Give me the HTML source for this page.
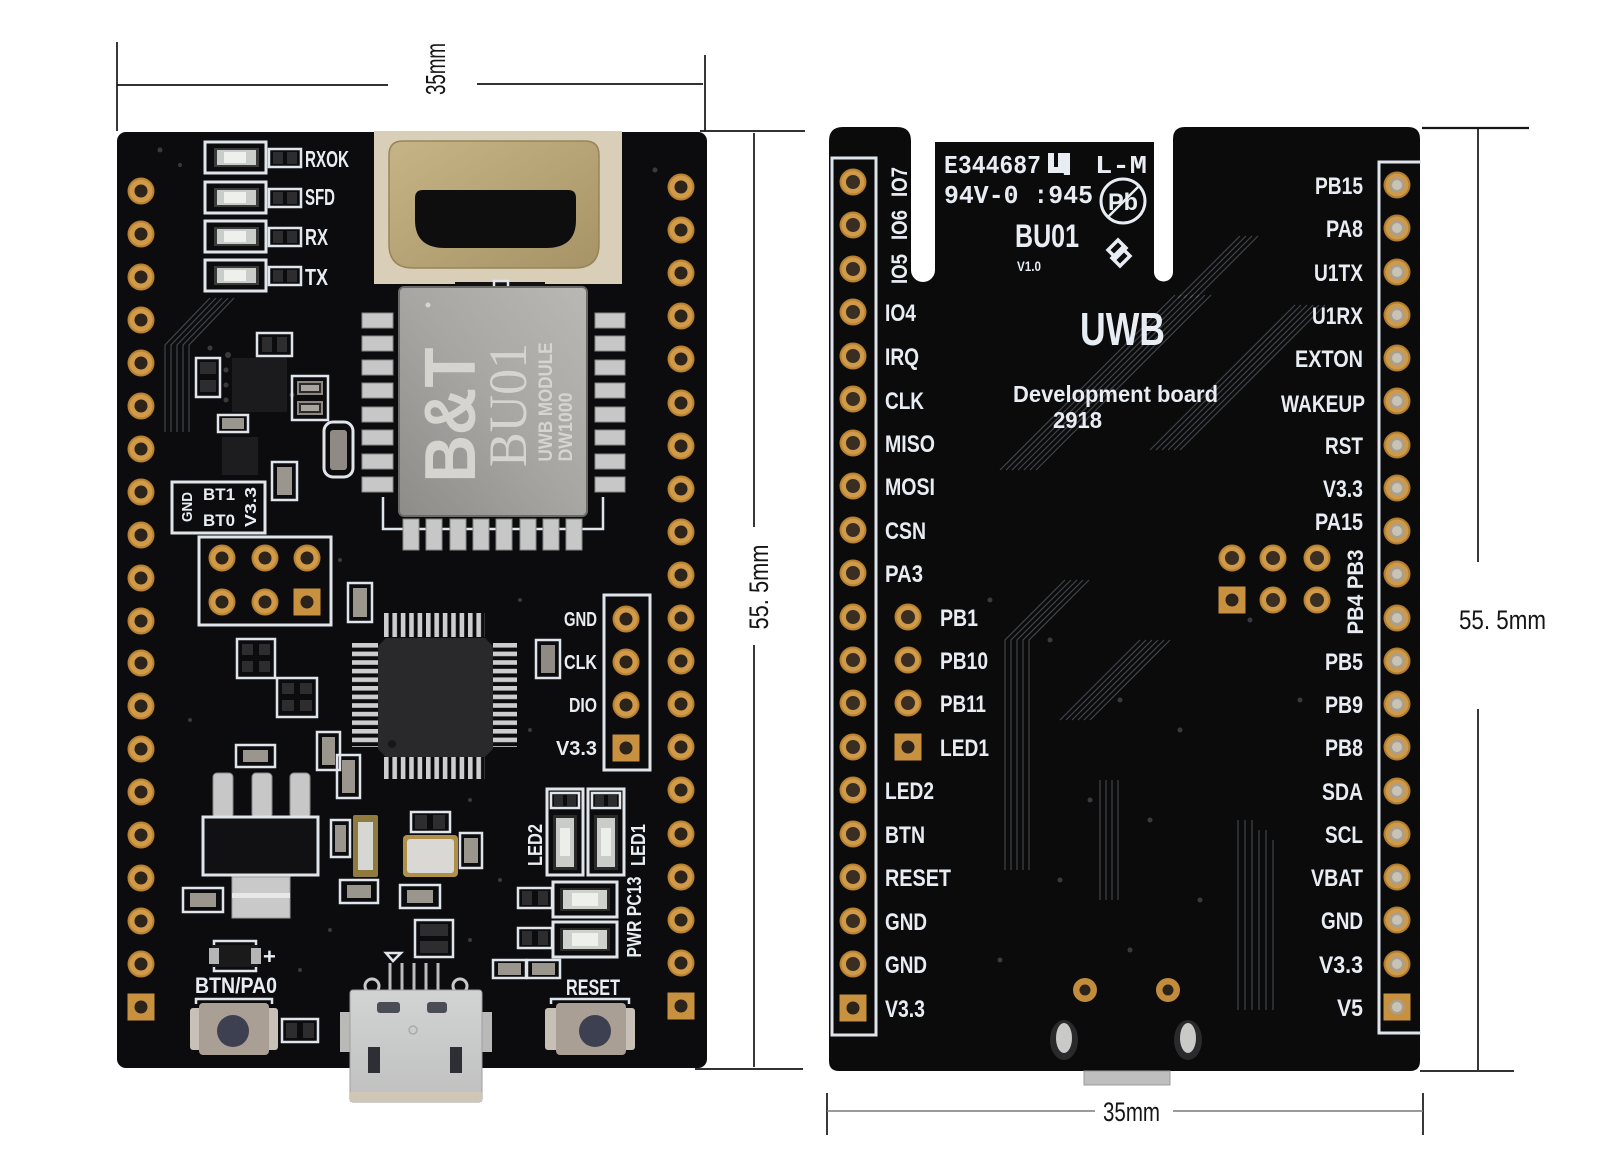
<!DOCTYPE html>
<html><head><meta charset="utf-8"><style>
html,body{margin:0;padding:0;background:#fff;width:1606px;height:1168px;overflow:hidden}
svg{display:block}
</style></head><body>
<svg width="1606" height="1168" viewBox="0 0 1606 1168" xmlns="http://www.w3.org/2000/svg" xmlns:xlink="http://www.w3.org/1999/xlink">
<defs>
<style>
.s{fill:none;stroke:#dfe5eb;stroke-width:3}
.s2{fill:none;stroke:#dfe5eb;stroke-width:2.5}
.t{fill:#e8edf3;font-family:"Liberation Sans","DejaVu Sans",sans-serif;font-weight:bold}
.d{fill:#151515;font-family:"Liberation Sans","DejaVu Sans",sans-serif}
.tr{fill:none;stroke:#8a95a1;stroke-width:1.2;opacity:.42}
.sv{fill:#c6c7c6;stroke:#868787;stroke-width:1}
.pd{fill:#2d2d2f}
.bd{fill:#9a958d}
.vi{fill:#3b3b3e}
</style>
<linearGradient id="gm" x1="0" y1="1" x2="1" y2="0"><stop offset="0" stop-color="#8e8c88"/><stop offset=".5" stop-color="#a8a6a2"/><stop offset="1" stop-color="#bab8b4"/></linearGradient>
<linearGradient id="gs" x1="0" y1="0" x2="1" y2="1"><stop offset="0" stop-color="#c6b487"/><stop offset="1" stop-color="#a69366"/></linearGradient>
<linearGradient id="gu" x1="0" y1="0" x2="0" y2="1"><stop offset="0" stop-color="#d2d3d3"/><stop offset="1" stop-color="#bfc0bf"/></linearGradient>
<pattern id="pv" x="384" y="0" width="8.4" height="10" patternUnits="userSpaceOnUse"><rect width="4.6" height="10" fill="#cdcdcd"/></pattern>
<pattern id="ph" x="0" y="643" width="10" height="8.6" patternUnits="userSpaceOnUse"><rect width="10" height="4.6" fill="#cdcdcd"/></pattern>
<g id="pin"><circle r="13.5" fill="#b7812f"/><circle r="11.5" fill="#d09a48"/><circle r="6.5" fill="#2c231b"/></g>
<g id="pinsq"><rect x="-13.5" y="-13.5" width="27" height="27" fill="#c79140"/><circle r="6.5" fill="#2c231b"/></g>
<g id="pinL"><circle r="13.5" fill="#b7812f"/><circle r="11.5" fill="#cf9a4a"/><circle r="7" fill="#3a2e22"/></g>
<g id="pinR"><circle r="13.5" fill="#b17e30"/><circle r="11.5" fill="#cd9a4c"/><circle r="7.5" fill="#a79f90"/><circle r="5" fill="#c9c3b6"/></g>
<g id="pinRsq"><rect x="-13.5" y="-13.5" width="27" height="27" fill="#c79140"/><circle r="7.5" fill="#a79f90"/><circle r="5" fill="#c9c3b6"/></g>
</defs>

<rect width="1606" height="1168" fill="#fff"/>

<!-- ===================== LEFT BOARD ===================== -->
<rect x="117" y="132" width="590" height="936" rx="9" fill="#0c0c0e"/>
<!-- antenna gap -->
<rect x="374" y="131" width="248" height="153" fill="#d9cfb9"/>
<rect x="613" y="284" width="10" height="4" fill="#0c0c0e"/>
<!-- shield -->
<path d="M403,141 H585 Q599,141 599,155 V244 Q599,268 575,268 H413 Q389,268 389,244 V155 Q389,141 403,141 Z" fill="url(#gs)" stroke="#978559" stroke-width="1.5"/>
<path d="M423,190 H568 Q576,190 576,198 V220 Q576,248 546,248 H445 Q415,248 415,220 V198 Q415,190 423,190 Z" fill="#0e0e0e"/>

<!-- left faint traces -->
<path class="tr" d="M210,298 L165,345 L165,432 M216,298 L171,345 L171,432 M222,298 L177,345 L177,432 M228,298 L183,345 L183,432 M234,298 L189,345 L189,432"/>

<!-- LED block -->
<g>
<rect class="s" x="205" y="142" width="61" height="31" stroke-width="4"/>
<rect x="214" y="148" width="45" height="19" fill="#3a3a3a"/><rect x="217" y="150" width="39" height="15" fill="#c9cdc9"/><rect x="224" y="152" width="22" height="11" fill="#eef0ec"/>
<rect class="s2" x="269" y="149" width="32" height="18"/><rect class="pd" x="273" y="152" width="10" height="12"/><rect class="pd" x="287" y="152" width="10" height="12"/>

<rect class="s" x="205" y="182" width="61" height="31" stroke-width="4"/>
<rect x="214" y="188" width="45" height="19" fill="#3a3a3a"/><rect x="217" y="190" width="39" height="15" fill="#c9cdc9"/><rect x="224" y="192" width="22" height="11" fill="#eef0ec"/>
<rect class="s2" x="269" y="189" width="32" height="18"/><rect class="pd" x="273" y="192" width="10" height="12"/><rect class="pd" x="287" y="192" width="10" height="12"/>

<rect class="s" x="205" y="221" width="61" height="31" stroke-width="4"/>
<rect x="214" y="227" width="45" height="19" fill="#3a3a3a"/><rect x="217" y="229" width="39" height="15" fill="#c9cdc9"/><rect x="224" y="231" width="22" height="11" fill="#eef0ec"/>
<rect class="s2" x="269" y="228" width="32" height="18"/><rect class="pd" x="273" y="231" width="10" height="12"/><rect class="pd" x="287" y="231" width="10" height="12"/>

<rect class="s" x="205" y="260" width="61" height="31" stroke-width="4"/>
<rect x="214" y="266" width="45" height="19" fill="#3a3a3a"/><rect x="217" y="268" width="39" height="15" fill="#c9cdc9"/><rect x="224" y="270" width="22" height="11" fill="#eef0ec"/>
<rect class="s2" x="269" y="267" width="32" height="18"/><rect class="pd" x="273" y="270" width="10" height="12"/><rect class="pd" x="287" y="270" width="10" height="12"/>
</g>
<text class="t" x="305" y="167" font-size="23" textLength="44" lengthAdjust="spacingAndGlyphs">RXOK</text>
<text class="t" x="305" y="205" font-size="23" textLength="30" lengthAdjust="spacingAndGlyphs">SFD</text>
<text class="t" x="305" y="245" font-size="23" textLength="23" lengthAdjust="spacingAndGlyphs">RX</text>
<text class="t" x="305" y="285" font-size="23" textLength="23" lengthAdjust="spacingAndGlyphs">TX</text>

<!-- module -->
<rect x="455" y="282" width="90" height="12" fill="#111"/>
<rect class="s2" x="494" y="281" width="14" height="10"/>
<path class="s2" d="M383,497 V529 H603 V497"/>
<g class="sv">
<rect x="362" y="313" width="31" height="15"/><rect x="362" y="336" width="31" height="15"/><rect x="362" y="360" width="31" height="15"/><rect x="362" y="383" width="31" height="15"/><rect x="362" y="407" width="31" height="15"/><rect x="362" y="430" width="31" height="15"/><rect x="362" y="454" width="31" height="15"/><rect x="362" y="477" width="31" height="15"/>
<rect x="595" y="313" width="30" height="15"/><rect x="595" y="336" width="30" height="15"/><rect x="595" y="360" width="30" height="15"/><rect x="595" y="383" width="30" height="15"/><rect x="595" y="407" width="30" height="15"/><rect x="595" y="430" width="30" height="15"/><rect x="595" y="454" width="30" height="15"/><rect x="595" y="477" width="30" height="15"/>
<rect x="403" y="519" width="16" height="31"/><rect x="426" y="519" width="16" height="31"/><rect x="450" y="519" width="16" height="31"/><rect x="473" y="519" width="16" height="31"/><rect x="496" y="519" width="16" height="31"/><rect x="520" y="519" width="16" height="31"/><rect x="543" y="519" width="16" height="31"/><rect x="566" y="519" width="16" height="31"/>
</g>
<rect x="399" y="287" width="188" height="229" rx="5" fill="url(#gm)" stroke="#6c6a66" stroke-width="2"/>
<circle cx="428" cy="305" r="2.5" fill="#d8d6d2"/>
<g fill="#d6d4cf">
<text transform="translate(449,415) rotate(-90)" y="26" text-anchor="middle" font-family="Liberation Sans, sans-serif" font-weight="bold" font-size="72" textLength="135" lengthAdjust="spacingAndGlyphs">B&amp;T</text>
<text transform="translate(508,405) rotate(-90)" y="18" text-anchor="middle" font-family="Liberation Serif, serif" font-size="54" textLength="124" lengthAdjust="spacingAndGlyphs">BU01</text>
<text transform="translate(545,402) rotate(-90)" y="7" text-anchor="middle" font-family="Liberation Sans, sans-serif" font-weight="bold" font-size="19" textLength="119" lengthAdjust="spacingAndGlyphs">UWB MODULE</text>
<text transform="translate(565,427) rotate(-90)" y="7" text-anchor="middle" font-family="Liberation Sans, sans-serif" font-weight="bold" font-size="19" textLength="69" lengthAdjust="spacingAndGlyphs">DW1000</text>
</g>

<!-- small components upper-left -->
<rect class="s2" x="257" y="333" width="35" height="23"/><rect class="pd" x="262" y="337" width="10" height="15"/><rect class="pd" x="277" y="337" width="10" height="15"/>
<rect class="s2" x="196" y="358" width="24" height="39"/><rect class="pd" x="200" y="362" width="16" height="12"/><rect class="pd" x="200" y="380" width="16" height="12"/>
<rect x="232" y="358" width="55" height="54" fill="#1b1b1d"/>
<g class="vi"><circle cx="228" cy="355" r="3"/><circle cx="226" cy="370" r="2.5"/><circle cx="226" cy="385" r="2.5"/><circle cx="226" cy="400" r="2.5"/><circle cx="292" cy="395" r="2.5"/><circle cx="210" cy="348" r="2.5"/></g>
<rect class="s2" x="292" y="376" width="36" height="44"/><rect x="297" y="381" width="26" height="14" fill="#8c8780"/><rect x="297" y="401" width="26" height="14" fill="#8c8780"/>
<rect x="299" y="383" width="22" height="10" fill="#2a2a2a"/><rect x="299" y="403" width="22" height="10" fill="#2a2a2a"/>
<rect x="301" y="385" width="18" height="6" fill="#a9a59e"/><rect x="301" y="405" width="18" height="6" fill="#a9a59e"/>
<rect class="s2" x="218" y="415" width="30" height="17"/><rect x="222" y="418" width="22" height="11" fill="#9a958d"/>
<rect x="222" y="437" width="36" height="38" fill="#1d1d1f"/>
<rect x="324" y="422" width="29" height="55" rx="9" fill="none" stroke="#dfe5eb" stroke-width="3"/><rect x="330" y="430" width="17" height="40" rx="3" fill="#8f8a84"/>
<rect class="s2" x="272" y="462" width="25" height="38"/><rect x="277" y="467" width="15" height="28" fill="#9a958d"/>
<!-- GND BT block -->
<rect class="s" x="172" y="482" width="93" height="51"/>
<text class="t" transform="translate(187,507) rotate(-90)" y="5" text-anchor="middle" font-size="15" textLength="30" lengthAdjust="spacingAndGlyphs">GND</text>
<text class="t" x="203" y="500" font-size="17" textLength="32" lengthAdjust="spacingAndGlyphs">BT1</text>
<text class="t" x="203" y="526" font-size="17" textLength="32" lengthAdjust="spacingAndGlyphs">BT0</text>
<text class="t" transform="translate(251,507) rotate(-90)" y="5" text-anchor="middle" font-size="16" textLength="40" lengthAdjust="spacingAndGlyphs">V3.3</text>
<!-- 2x3 header -->
<rect class="s" x="199" y="537" width="132" height="88"/>
<use xlink:href="#pin" x="222" y="558"/><use xlink:href="#pin" x="265" y="558"/><use xlink:href="#pin" x="307" y="558"/>
<use xlink:href="#pin" x="222" y="602"/><use xlink:href="#pin" x="265" y="602"/><use xlink:href="#pinsq" x="307" y="602"/>
<rect class="s2" x="348" y="583" width="24" height="39"/><rect x="353" y="588" width="14" height="29" fill="#9a958d"/>
<!-- quad parts -->
<rect class="s2" x="237" y="639" width="38" height="39"/><rect class="pd" x="242" y="644" width="11" height="11"/><rect class="pd" x="259" y="644" width="11" height="11"/><rect class="pd" x="242" y="661" width="11" height="11"/><rect class="pd" x="259" y="661" width="11" height="11"/>
<rect class="s2" x="277" y="678" width="40" height="39"/><rect class="pd" x="282" y="683" width="12" height="11"/><rect class="pd" x="300" y="683" width="12" height="11"/><rect class="pd" x="282" y="700" width="12" height="11"/><rect class="pd" x="300" y="700" width="12" height="11"/>
<!-- MCU -->
<rect x="384" y="613" width="101" height="24" fill="url(#pv)"/>
<rect x="384" y="757" width="101" height="22" fill="url(#pv)"/>
<rect x="352" y="643" width="26" height="104" fill="url(#ph)"/>
<rect x="493" y="643" width="24" height="104" fill="url(#ph)"/>
<path d="M386,638 H485 L493,646 V749 L485,757 H386 L378,749 V646 Z" fill="#29292c"/>
<circle cx="392" cy="744" r="4" fill="#18181a"/>
<rect class="s2" x="536" y="640" width="24" height="38"/><rect x="541" y="645" width="14" height="28" fill="#8f8a84"/>
<!-- SWD header -->
<rect class="s" x="604" y="595" width="46" height="175"/>
<use xlink:href="#pin" x="626" y="619"/><use xlink:href="#pin" x="626" y="662"/><use xlink:href="#pin" x="626" y="705"/><use xlink:href="#pinsq" x="626" y="748"/>
<text class="t" x="597" y="626" text-anchor="end" font-size="20" textLength="33" lengthAdjust="spacingAndGlyphs">GND</text>
<text class="t" x="597" y="669" text-anchor="end" font-size="20" textLength="33" lengthAdjust="spacingAndGlyphs">CLK</text>
<text class="t" x="597" y="712" text-anchor="end" font-size="20" textLength="28" lengthAdjust="spacingAndGlyphs">DIO</text>
<text class="t" x="597" y="755" text-anchor="end" font-size="20" textLength="41" lengthAdjust="spacingAndGlyphs">V3.3</text>
<!-- lower components -->
<rect class="s2" x="236" y="745" width="39" height="22"/><rect x="243" y="750" width="25" height="12" fill="#9a958d"/>
<rect class="s2" x="317" y="732" width="23" height="38"/><rect x="322" y="737" width="13" height="28" fill="#9a958d"/>
<rect class="s2" x="337" y="755" width="23" height="43"/><rect x="342" y="760" width="13" height="33" fill="#9a958d"/>
<!-- regulator -->
<rect x="213" y="773" width="20" height="45" rx="4" class="sv"/><rect x="252" y="773" width="20" height="45" rx="4" class="sv"/><rect x="290" y="773" width="20" height="45" rx="4" class="sv"/>
<rect x="203" y="817" width="115" height="58" fill="#111113" stroke="#dfe5eb" stroke-width="3"/>
<rect x="232" y="877" width="58" height="41" fill="#c8c9c8" stroke="#9a9b9b"/>
<rect x="232" y="893" width="58" height="5" fill="#e6e7e6"/>
<rect class="s2" x="183" y="888" width="40" height="24"/><rect x="190" y="893" width="26" height="14" fill="#9a958d"/>
<rect class="s2" x="331" y="820" width="19" height="37"/><rect x="335" y="825" width="11" height="27" fill="#9a958d"/>
<rect x="353" y="815" width="25" height="62" rx="2" fill="#8f7b3e"/><rect x="358" y="822" width="15" height="48" fill="#d6d6d3"/>
<rect x="403" y="835" width="55" height="42" rx="4" fill="#b08f49"/><rect x="407" y="839" width="47" height="34" rx="3" fill="#d9d8d4"/>
<rect class="s2" x="411" y="812" width="39" height="20"/><rect class="pd" x="415" y="815" width="12" height="14"/><rect class="pd" x="433" y="815" width="12" height="14"/>
<rect class="s2" x="460" y="833" width="22" height="35"/><rect x="464" y="838" width="14" height="25" fill="#9a958d"/>
<rect class="s2" x="340" y="880" width="38" height="23"/><rect x="347" y="885" width="24" height="13" fill="#9a958d"/>
<rect class="s2" x="400" y="885" width="40" height="23"/><rect x="407" y="890" width="26" height="13" fill="#9a958d"/>
<rect class="s2" x="415" y="920" width="38" height="37"/><rect class="pd" x="420" y="924" width="28" height="12"/><rect class="pd" x="420" y="941" width="28" height="12"/>
<!-- LED1/LED2 -->
<rect class="s" x="547" y="789" width="36" height="86"/><rect class="s2" x="551" y="793" width="28" height="15"/><rect class="pd" x="554" y="795" width="9" height="11"/><rect class="pd" x="567" y="795" width="9" height="11"/>
<rect x="553" y="815" width="24" height="55" fill="#2a2a2a"/><rect x="556" y="818" width="18" height="49" fill="#c9ccc8"/><rect x="560" y="828" width="10" height="28" fill="#eceeea"/>
<rect class="s" x="588" y="789" width="36" height="86"/><rect class="s2" x="592" y="793" width="28" height="15"/><rect class="pd" x="595" y="795" width="9" height="11"/><rect class="pd" x="608" y="795" width="9" height="11"/>
<rect x="594" y="815" width="24" height="55" fill="#2a2a2a"/><rect x="597" y="818" width="18" height="49" fill="#c9ccc8"/><rect x="601" y="828" width="10" height="28" fill="#eceeea"/>
<text class="t" transform="translate(535,845) rotate(-90)" y="7" text-anchor="middle" font-size="20" textLength="42" lengthAdjust="spacingAndGlyphs">LED2</text>
<text class="t" transform="translate(638,845) rotate(-90)" y="7" text-anchor="middle" font-size="20" textLength="42" lengthAdjust="spacingAndGlyphs">LED1</text>
<!-- PC13 / PWR -->
<rect class="s" x="553" y="882" width="64" height="35"/><rect x="560" y="888" width="50" height="23" fill="#2a2a2a"/><rect x="563" y="890" width="44" height="19" fill="#cfd1cd"/><rect x="572" y="893" width="26" height="13" fill="#eef0ec"/>
<rect class="s" x="553" y="922" width="64" height="35"/><rect x="560" y="928" width="50" height="23" fill="#2a2a2a"/><rect x="563" y="930" width="44" height="19" fill="#cfd1cd"/><rect x="572" y="933" width="26" height="13" fill="#eef0ec"/>
<rect class="s2" x="518" y="888" width="34" height="20"/><rect class="pd" x="522" y="891" width="10" height="14"/><rect class="pd" x="538" y="891" width="10" height="14"/>
<rect class="s2" x="518" y="928" width="34" height="20"/><rect class="pd" x="522" y="931" width="10" height="14"/><rect class="pd" x="538" y="931" width="10" height="14"/>
<rect class="s2" x="493" y="960" width="33" height="18"/><rect x="498" y="963" width="23" height="12" fill="#9a958d"/>
<rect class="s2" x="527" y="960" width="33" height="18"/><rect x="532" y="963" width="23" height="12" fill="#9a958d"/>
<text class="t" transform="translate(634,917) rotate(-90)" y="7" text-anchor="middle" font-size="20" textLength="81" lengthAdjust="spacingAndGlyphs">PWR PC13</text>
<!-- diode -->
<rect class="s2" x="214" y="941" width="42" height="30"/>
<rect x="212" y="945" width="46" height="22" fill="#1a1a1a"/><rect x="209" y="948" width="10" height="16" fill="#b5b5b5"/><rect x="251" y="948" width="10" height="16" fill="#b5b5b5"/>
<text class="t" x="263" y="964" font-size="22">+</text>
<text class="t" x="195" y="993" font-size="22" textLength="82" lengthAdjust="spacingAndGlyphs">BTN/PA0</text>
<text class="t" x="566" y="995" font-size="22" textLength="54" lengthAdjust="spacingAndGlyphs">RESET</text>
<!-- buttons -->
<path class="s2" d="M196,1004 V999 H272 V1004"/>
<rect x="190" y="1008" width="88" height="42" rx="3" fill="#c6c0b7"/>
<rect x="199" y="1003" width="70" height="52" rx="4" fill="#a99f95"/>
<circle cx="233" cy="1031" r="16" fill="#3c4050"/>
<path class="s2" d="M551,1004 V999 H629 V1004"/>
<rect x="545" y="1008" width="90" height="42" rx="3" fill="#c6c0b7"/>
<rect x="556" y="1003" width="70" height="52" rx="4" fill="#a99f95"/>
<circle cx="595" cy="1031" r="16" fill="#3c4050"/>
<rect class="s2" x="282" y="1019" width="36" height="23"/><rect class="pd" x="286" y="1023" width="11" height="15"/><rect class="pd" x="303" y="1023" width="11" height="15"/>
<!-- USB -->
<path class="s2" d="M386,953 H401 L393,961 Z"/>
<g stroke="#bdbdbd" stroke-width="3"><line x1="390" y1="963" x2="390" y2="992"/><line x1="402" y1="963" x2="402" y2="992"/><line x1="414" y1="963" x2="414" y2="992"/><line x1="426" y1="963" x2="426" y2="992"/><line x1="438" y1="963" x2="438" y2="992"/></g>
<circle cx="372" cy="986" r="7" fill="none" stroke="#c9c9c9" stroke-width="3"/><circle cx="460" cy="986" r="7" fill="none" stroke="#c9c9c9" stroke-width="3"/>
<rect x="340" y="1012" width="12" height="40" fill="#b9b9b8"/><rect x="480" y="1012" width="12" height="40" fill="#b9b9b8"/>
<rect x="350" y="990" width="132" height="112" rx="3" fill="url(#gu)" stroke="#9d9e9e"/>
<rect x="377" y="1002" width="23" height="11" rx="3" fill="#4a4d55"/><rect x="427" y="1002" width="20" height="11" rx="3" fill="#4a4d55"/>
<rect x="368" y="1047" width="12" height="26" fill="#2d2f34"/><rect x="450" y="1047" width="12" height="26" fill="#2d2f34"/>
<circle cx="413" cy="1030" r="4" fill="none" stroke="#aaa" stroke-width="1.5"/>
<rect x="350" y="1092" width="132" height="10" fill="#cfc6b6"/>
<!-- left board pins -->
<g>
<use xlink:href="#pin" x="141" y="191"/><use xlink:href="#pin" x="141" y="234"/><use xlink:href="#pin" x="141" y="277"/><use xlink:href="#pin" x="141" y="320"/><use xlink:href="#pin" x="141" y="363"/><use xlink:href="#pin" x="141" y="406"/><use xlink:href="#pin" x="141" y="449"/><use xlink:href="#pin" x="141" y="492"/><use xlink:href="#pin" x="141" y="535"/><use xlink:href="#pin" x="141" y="578"/><use xlink:href="#pin" x="141" y="621"/><use xlink:href="#pin" x="141" y="663"/><use xlink:href="#pin" x="141" y="706"/><use xlink:href="#pin" x="141" y="749"/><use xlink:href="#pin" x="141" y="792"/><use xlink:href="#pin" x="141" y="835"/><use xlink:href="#pin" x="141" y="878"/><use xlink:href="#pin" x="141" y="921"/><use xlink:href="#pin" x="141" y="964"/><use xlink:href="#pinsq" x="141" y="1007"/>
<use xlink:href="#pin" x="681" y="187"/><use xlink:href="#pin" x="681" y="230"/><use xlink:href="#pin" x="681" y="273"/><use xlink:href="#pin" x="681" y="316"/><use xlink:href="#pin" x="681" y="359"/><use xlink:href="#pin" x="681" y="403"/><use xlink:href="#pin" x="681" y="446"/><use xlink:href="#pin" x="681" y="489"/><use xlink:href="#pin" x="681" y="532"/><use xlink:href="#pin" x="681" y="575"/><use xlink:href="#pin" x="681" y="618"/><use xlink:href="#pin" x="681" y="661"/><use xlink:href="#pin" x="681" y="704"/><use xlink:href="#pin" x="681" y="747"/><use xlink:href="#pin" x="681" y="790"/><use xlink:href="#pin" x="681" y="834"/><use xlink:href="#pin" x="681" y="877"/><use xlink:href="#pin" x="681" y="920"/><use xlink:href="#pin" x="681" y="963"/><use xlink:href="#pinsq" x="681" y="1006"/>
</g>
<g class="vi"><circle cx="160" cy="150" r="2.5"/><circle cx="180" cy="165" r="2"/><circle cx="655" cy="170" r="2.5"/><circle cx="340" cy="560" r="2"/><circle cx="520" cy="600" r="2"/><circle cx="530" cy="730" r="2"/><circle cx="190" cy="720" r="2"/><circle cx="470" cy="800" r="2"/><circle cx="500" cy="880" r="2"/><circle cx="330" cy="930" r="2"/><circle cx="300" cy="970" r="2"/><circle cx="470" cy="940" r="2"/></g>

<!-- ===================== RIGHT BOARD ===================== -->
<path d="M829,141 Q829,127 843,127 H897 Q911,127 911,141 V270 A12,12 0 0 0 935,270 V142 H1154 V272 A9.5,9.5 0 0 0 1173,272 V139 Q1173,127 1185,127 H1408 Q1420,127 1420,139 V1061 Q1420,1071 1410,1071 H839 Q829,1071 829,1061 Z" fill="#0b0b0c"/>
<!-- traces -->
<path class="tr" d="M1000,470 L1175,295 M1006,470 L1181,295 M1012,470 L1187,295 M1018,470 L1193,295 M1024,470 L1199,295 M1030,470 L1205,295 M1036,470 L1211,295"/>
<path class="tr" d="M1150,450 L1295,305 M1156,450 L1301,305 M1162,450 L1307,305 M1168,450 L1313,305 M1174,450 L1319,305 M1180,450 L1325,305"/>
<path class="tr" d="M1178,298 L1240,236 M1184,298 L1246,236 M1190,298 L1252,236 M1196,298 L1258,236"/>
<path class="tr" d="M1005,870 V640 L1065,580 M1011,870 V640 L1071,580 M1017,870 V640 L1077,580 M1023,870 V640 L1083,580 M1029,870 V640 L1089,580"/>
<path class="tr" d="M1238,1010 V820 M1245,1010 V820 M1252,1010 V820 M1259,1010 V830 M1266,1010 V830 M1273,1010 V840"/>
<path class="tr" d="M1060,720 L1140,640 M1066,720 L1146,640 M1072,720 L1152,640 M1078,720 L1158,640 M1084,720 L1164,640 M1090,720 L1170,640"/>
<path class="tr" d="M1100,780 V900 M1106,780 V900 M1112,780 V900 M1118,780 V900"/>
<!-- label block -->
<g class="t" font-weight="normal">
<text x="944" y="173" font-family="Liberation Mono, monospace" font-size="26" textLength="97" lengthAdjust="spacingAndGlyphs">E344687</text>
<text x="1095" y="173" font-family="Liberation Mono, monospace" font-size="26" textLength="52" lengthAdjust="spacingAndGlyphs">L-M</text>
<text x="944" y="203" font-family="Liberation Mono, monospace" font-size="26" textLength="149" lengthAdjust="spacingAndGlyphs">94V-0 :945</text>
<text x="1015" y="247" font-size="32" textLength="64" lengthAdjust="spacingAndGlyphs">BU01</text>
<text x="1017" y="271" font-size="14" font-weight="bold" textLength="24" lengthAdjust="spacingAndGlyphs">V1.0</text>
<text x="1123" y="210" text-anchor="middle" font-size="24" textLength="30" lengthAdjust="spacingAndGlyphs">Pb</text>
</g>
<path d="M1048,153 h6 v14 h4 v-14 h6 v20 h-16 z M1060,153 h10 v22 h-6 z" fill="#e8edf3"/>
<circle cx="1123" cy="201" r="22" fill="none" stroke="#e8edf3" stroke-width="3"/>
<line x1="1108" y1="217" x2="1139" y2="186" stroke="#e8edf3" stroke-width="2.5"/>
<g fill="none" stroke="#e8edf3" stroke-width="3.5"><path d="M1108,250 L1118,240 L1126,248 L1116,258 Z"/><path d="M1112,258 L1122,248 L1130,256 L1120,266 Z"/></g>
<!-- board texts -->
<text class="t" x="1080" y="345" font-weight="normal" font-size="46" textLength="85" lengthAdjust="spacingAndGlyphs">UWB</text>
<text class="t" x="1013" y="402" font-size="23" textLength="205" lengthAdjust="spacingAndGlyphs">Development  board</text>
<text class="t" x="1053" y="428" font-size="23" textLength="49" lengthAdjust="spacingAndGlyphs">2918</text>
<!-- outline boxes -->
<rect class="s" x="832" y="158" width="44" height="877"/>
<path class="s" d="M1421,162 H1379 V1033 H1421"/>
<!-- left column pins -->
<g>
<use xlink:href="#pinL" x="853" y="182"/><use xlink:href="#pinL" x="853" y="225"/><use xlink:href="#pinL" x="853" y="269"/><use xlink:href="#pinL" x="853" y="312"/><use xlink:href="#pinL" x="853" y="356"/><use xlink:href="#pinL" x="853" y="399"/><use xlink:href="#pinL" x="853" y="443"/><use xlink:href="#pinL" x="853" y="486"/><use xlink:href="#pinL" x="853" y="530"/><use xlink:href="#pinL" x="853" y="573"/><use xlink:href="#pinL" x="853" y="617"/><use xlink:href="#pinL" x="853" y="660"/><use xlink:href="#pinL" x="853" y="703"/><use xlink:href="#pinL" x="853" y="747"/><use xlink:href="#pinL" x="853" y="790"/><use xlink:href="#pinL" x="853" y="834"/><use xlink:href="#pinL" x="853" y="877"/><use xlink:href="#pinL" x="853" y="921"/><use xlink:href="#pinL" x="853" y="964"/><use xlink:href="#pinsq" x="853" y="1008"/>
<use xlink:href="#pinR" x="1397" y="185"/><use xlink:href="#pinR" x="1397" y="228"/><use xlink:href="#pinR" x="1397" y="272"/><use xlink:href="#pinR" x="1397" y="315"/><use xlink:href="#pinR" x="1397" y="358"/><use xlink:href="#pinR" x="1397" y="401"/><use xlink:href="#pinR" x="1397" y="445"/><use xlink:href="#pinR" x="1397" y="488"/><use xlink:href="#pinR" x="1397" y="531"/><use xlink:href="#pinR" x="1397" y="574"/><use xlink:href="#pinR" x="1397" y="618"/><use xlink:href="#pinR" x="1397" y="661"/><use xlink:href="#pinR" x="1397" y="704"/><use xlink:href="#pinR" x="1397" y="747"/><use xlink:href="#pinR" x="1397" y="791"/><use xlink:href="#pinR" x="1397" y="834"/><use xlink:href="#pinR" x="1397" y="877"/><use xlink:href="#pinR" x="1397" y="920"/><use xlink:href="#pinR" x="1397" y="964"/><use xlink:href="#pinRsq" x="1397" y="1007"/>
<use xlink:href="#pinL" x="908" y="617"/><use xlink:href="#pinL" x="908" y="660"/><use xlink:href="#pinL" x="908" y="703"/><use xlink:href="#pinsq" x="908" y="747"/>
<use xlink:href="#pinL" x="1232" y="558"/><use xlink:href="#pinL" x="1273" y="558"/><use xlink:href="#pinL" x="1317" y="558"/>
<use xlink:href="#pinsq" x="1232" y="600"/><use xlink:href="#pinL" x="1273" y="600"/><use xlink:href="#pinL" x="1317" y="600"/>
</g>
<!-- left labels -->
<g class="t" font-size="22">
<text transform="translate(899,182) rotate(-90)" y="8" text-anchor="middle" textLength="30" lengthAdjust="spacingAndGlyphs">IO7</text>
<text transform="translate(899,225) rotate(-90)" y="8" text-anchor="middle" textLength="30" lengthAdjust="spacingAndGlyphs">IO6</text>
<text transform="translate(899,269) rotate(-90)" y="8" text-anchor="middle" textLength="30" lengthAdjust="spacingAndGlyphs">IO5</text>
</g>
<g class="t" font-size="24">
<text x="885" y="321" textLength="31" lengthAdjust="spacingAndGlyphs">IO4</text>
<text x="885" y="365" textLength="34" lengthAdjust="spacingAndGlyphs">IRQ</text>
<text x="885" y="409" textLength="39" lengthAdjust="spacingAndGlyphs">CLK</text>
<text x="885" y="452" textLength="50" lengthAdjust="spacingAndGlyphs">MISO</text>
<text x="885" y="495" textLength="50" lengthAdjust="spacingAndGlyphs">MOSI</text>
<text x="885" y="539" textLength="41" lengthAdjust="spacingAndGlyphs">CSN</text>
<text x="885" y="582" textLength="38" lengthAdjust="spacingAndGlyphs">PA3</text>
<text x="940" y="626" textLength="38" lengthAdjust="spacingAndGlyphs">PB1</text>
<text x="940" y="669" textLength="48" lengthAdjust="spacingAndGlyphs">PB10</text>
<text x="940" y="712" textLength="46" lengthAdjust="spacingAndGlyphs">PB11</text>
<text x="940" y="756" textLength="49" lengthAdjust="spacingAndGlyphs">LED1</text>
<text x="885" y="799" textLength="49" lengthAdjust="spacingAndGlyphs">LED2</text>
<text x="885" y="843" textLength="40" lengthAdjust="spacingAndGlyphs">BTN</text>
<text x="885" y="886" textLength="66" lengthAdjust="spacingAndGlyphs">RESET</text>
<text x="885" y="930" textLength="42" lengthAdjust="spacingAndGlyphs">GND</text>
<text x="885" y="973" textLength="42" lengthAdjust="spacingAndGlyphs">GND</text>
<text x="885" y="1017" textLength="40" lengthAdjust="spacingAndGlyphs">V3.3</text>
</g>
<!-- right labels -->
<g class="t" font-size="24" text-anchor="end">
<text x="1363" y="194" textLength="48" lengthAdjust="spacingAndGlyphs">PB15</text>
<text x="1363" y="237" textLength="37" lengthAdjust="spacingAndGlyphs">PA8</text>
<text x="1363" y="281" textLength="49" lengthAdjust="spacingAndGlyphs">U1TX</text>
<text x="1363" y="324" textLength="51" lengthAdjust="spacingAndGlyphs">U1RX</text>
<text x="1363" y="367" textLength="68" lengthAdjust="spacingAndGlyphs">EXTON</text>
<text x="1365" y="412" textLength="84" lengthAdjust="spacingAndGlyphs">WAKEUP</text>
<text x="1363" y="454" textLength="38" lengthAdjust="spacingAndGlyphs">RST</text>
<text x="1363" y="497" textLength="40" lengthAdjust="spacingAndGlyphs">V3.3</text>
<text x="1363" y="530" textLength="48" lengthAdjust="spacingAndGlyphs">PA15</text>
<text x="1363" y="670" textLength="38" lengthAdjust="spacingAndGlyphs">PB5</text>
<text x="1363" y="713" textLength="38" lengthAdjust="spacingAndGlyphs">PB9</text>
<text x="1363" y="756" textLength="38" lengthAdjust="spacingAndGlyphs">PB8</text>
<text x="1363" y="800" textLength="41" lengthAdjust="spacingAndGlyphs">SDA</text>
<text x="1363" y="843" textLength="38" lengthAdjust="spacingAndGlyphs">SCL</text>
<text x="1363" y="886" textLength="52" lengthAdjust="spacingAndGlyphs">VBAT</text>
<text x="1363" y="929" textLength="42" lengthAdjust="spacingAndGlyphs">GND</text>
<text x="1363" y="973" textLength="44" lengthAdjust="spacingAndGlyphs">V3.3</text>
<text x="1363" y="1016" textLength="26" lengthAdjust="spacingAndGlyphs">V5</text>
</g>
<text class="t" transform="translate(1355,592) rotate(-90)" y="8" text-anchor="middle" font-size="22" textLength="85" lengthAdjust="spacingAndGlyphs">PB4 PB3</text>
<!-- bottom of right board -->
<circle cx="1085" cy="990" r="12" fill="#c28c3c"/><circle cx="1085" cy="990" r="5.5" fill="#2c231b"/>
<circle cx="1168" cy="990" r="12" fill="#c28c3c"/><circle cx="1168" cy="990" r="5.5" fill="#2c231b"/>
<ellipse cx="1064" cy="1040" rx="14" ry="20" fill="#2a2a2c"/><ellipse cx="1064" cy="1038" rx="8" ry="15" fill="#c9c9c8"/>
<ellipse cx="1188" cy="1040" rx="14" ry="20" fill="#2a2a2c"/><ellipse cx="1188" cy="1038" rx="8" ry="15" fill="#c9c9c8"/>
<rect x="1084" y="1071" width="86" height="14" fill="#bdbebd" stroke="#9a9b9b"/>
<g class="vi"><circle cx="990" cy="600" r="2.5"/><circle cx="1050" cy="640" r="2.5"/><circle cx="1120" cy="700" r="2.5"/><circle cx="1180" cy="730" r="2.5"/><circle cx="1090" cy="800" r="2.5"/><circle cx="1150" cy="820" r="2.5"/><circle cx="1060" cy="880" r="2.5"/><circle cx="1200" cy="900" r="2.5"/><circle cx="1130" cy="950" r="2.5"/><circle cx="1000" cy="960" r="2.5"/><circle cx="1250" cy="620" r="2.5"/><circle cx="1300" cy="700" r="2.5"/></g>

<!-- ===================== DIMENSIONS ===================== -->
<g stroke="#151515" stroke-width="1.7">
<line x1="117" y1="42" x2="117" y2="131"/>
<line x1="117" y1="85" x2="388" y2="85"/>
<line x1="477" y1="84" x2="703" y2="84"/>
<line x1="705" y1="55" x2="705" y2="131"/>
<line x1="700" y1="131" x2="805" y2="131"/>
<line x1="754" y1="133" x2="754" y2="527"/>
<line x1="754" y1="645" x2="754" y2="1067"/>
<line x1="695" y1="1069" x2="803" y2="1069"/>
<line x1="1422" y1="128" x2="1529" y2="128" stroke-width="2.2"/>
<line x1="1478" y1="128" x2="1478" y2="562"/>
<line x1="1478" y1="709" x2="1478" y2="1070"/>
<line x1="1420" y1="1071" x2="1514" y2="1071"/>
<line x1="827" y1="1093" x2="827" y2="1135"/>
<line x1="1423" y1="1093" x2="1423" y2="1135"/>
</g>
<g stroke="#7a7a7a" stroke-width="1.5"><line x1="827" y1="1111" x2="1095" y2="1111"/><line x1="1173" y1="1111" x2="1423" y2="1111"/></g>
<text class="d" transform="translate(435,69) rotate(-90)" y="10" text-anchor="middle" font-size="28" textLength="52" lengthAdjust="spacingAndGlyphs">35mm</text>
<text class="d" transform="translate(758,587) rotate(-90)" y="10" text-anchor="middle" font-size="27" textLength="85" lengthAdjust="spacingAndGlyphs">55. 5mm</text>
<text class="d" x="1459" y="629" font-size="27" textLength="87" lengthAdjust="spacingAndGlyphs">55. 5mm</text>
<text class="d" x="1103" y="1121" font-size="27" textLength="57" lengthAdjust="spacingAndGlyphs">35mm</text>
</svg>
</body></html>
